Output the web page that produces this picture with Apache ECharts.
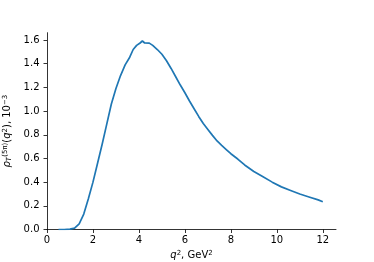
<!DOCTYPE html>
<html><head><meta charset="utf-8">
<script src="https://cdn.jsdelivr.net/npm/echarts@6/dist/echarts.min.js"></script>
<style>html,body{margin:0;padding:0;background:#fff}#c{width:374px;height:262px}</style>
</head><body><div id="c"></div>
<script>
const q2 = [0.5,0.75,1.0,1.2,1.4,1.6,1.8,2.0,2.2,2.4,2.6,2.8,3.0,3.2,3.4,3.6,3.75,3.9,4.05,4.15,4.25,4.45,4.6,4.8,5.0,5.2,5.4,5.6,5.8,6.0,6.2,6.4,6.6,6.8,7.0,7.2,7.4,7.6,7.8,8.0,8.3,8.6,9.0,9.4,9.8,10.2,10.6,11.0,11.4,11.8,12.0];
const rho = [0,0,0.003,0.012,0.048,0.13,0.26,0.40,0.56,0.72,0.89,1.06,1.19,1.30,1.39,1.455,1.52,1.555,1.575,1.592,1.575,1.574,1.555,1.52,1.48,1.425,1.36,1.29,1.22,1.155,1.085,1.02,0.955,0.895,0.845,0.795,0.748,0.71,0.675,0.64,0.595,0.545,0.49,0.445,0.40,0.36,0.33,0.30,0.275,0.25,0.235];
const xTicks = [0,2,4,6,8,10,12];
const yTicks = [0.0,0.2,0.4,0.6,0.8,1.0,1.2,1.4,1.6];
const font = 'DejaVu Sans';
const chart = echarts.init(document.getElementById('c'), null, {renderer:'canvas'});
const axisCommon = {
  axisLine:{show:true,lineStyle:{color:'#000',width:0.8}},
  axisTick:{show:true,inside:false,length:3.5,lineStyle:{color:'#000',width:0.8}},
  splitLine:{show:false},
  axisLabel:{color:'#000',fontSize:10,fontFamily:font,showMaxLabel:false},
  nameTextStyle:{color:'#000',fontSize:10,fontFamily:font}
};
chart.setOption({
  animation:false,
  grid:{left:47,right:38,top:32.7,bottom:32.5,containLabel:false,outerBoundsMode:'none'},
  xAxis:Object.assign({}, axisCommon, {
    type:'value', min:0, max:12.575, interval:2,
    axisLabel:Object.assign({}, axisCommon.axisLabel, {margin:5.5, formatter:v=>xTicks.includes(v)?String(v):''}),
    name:'{i|q}{s|2}, GeV{s|2}', nameLocation:'middle', nameGap:19,
    nameTextStyle:{color:'#000',fontSize:10,fontFamily:font,rich:{
      i:{fontStyle:'italic',fontSize:10,fontFamily:font,color:'#000'},
      s:{fontSize:7,fontFamily:font,color:'#000',verticalAlign:'top',padding:[0,0,4,0]}
    }}
  }),
  yAxis:Object.assign({}, axisCommon, {
    type:'value', min:0, max:1.662, interval:0.2,
    axisLabel:Object.assign({}, axisCommon.axisLabel, {margin:7.5, formatter:v=>yTicks.some(t=>Math.abs(t-v)<1e-6)?v.toFixed(1):''}),
    name:'{i|ρ}{b|T}{s|(5π)}({i|q}{s|2}), 10{s|−3}', nameLocation:'middle', nameGap:23, nameRotate:90,
    nameTextStyle:{color:'#000',fontSize:10,fontFamily:font,rich:{
      i:{fontStyle:'italic',fontSize:10,fontFamily:font,color:'#000'},
      s:{fontSize:7,fontFamily:font,color:'#000',verticalAlign:'top',padding:[0,0,4,0]},
      b:{fontSize:7,fontStyle:'italic',fontFamily:font,color:'#000',verticalAlign:'bottom',padding:[4,0,0,0]}
    }}
  }),
  series:[{
    type:'line', data:q2.map((x,i)=>[x,rho[i]]), showSymbol:false, symbol:'none',
    lineStyle:{color:'#1f77b4',width:1.7}, itemStyle:{color:'#1f77b4'}
  }]
});
</script></body></html>
